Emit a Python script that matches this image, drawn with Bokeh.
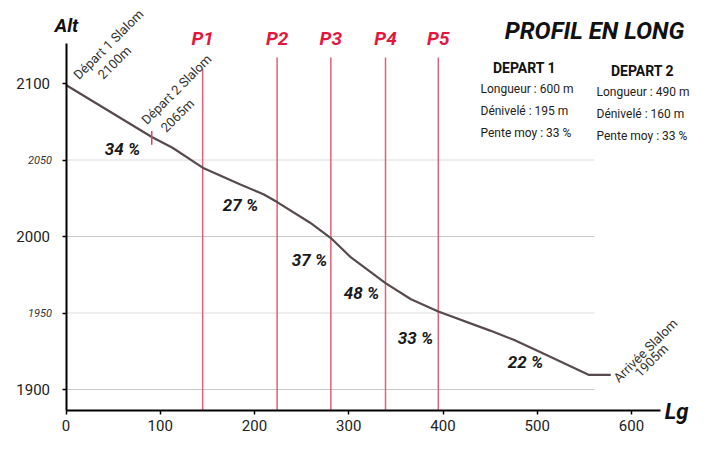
from bokeh.plotting import figure
from bokeh.models import Range1d, Label, FixedTicker
from bokeh.core.properties import value
from bokeh.embed import file_html
from bokeh.resources import INLINE

# ---------------- data ----------------
dist = [0, 91, 113, 145, 185, 210, 224, 259, 281, 302, 339, 366, 395, 450, 475, 503, 555, 578]
alt = [2099, 2065, 2058, 2045, 2034, 2027.5, 2022.5, 2009, 1999, 1986.5, 1969.5, 1959, 1951,
       1938.5, 1932.5, 1924.5, 1909.5, 1909.5]
posts = ["P1", "P2", "P3", "P4", "P5"]
post_dist = [145, 224, 281, 339, 395]
slopes = ["34 %", "27 %", "37 %", "48 %", "33 %", "22 %"]
x_ticks = [0, 100, 200, 300, 400, 500, 600]
y_main_ticks = [1900, 2000, 2100]
y_small_ticks = [1950, 2050]
grid_levels = [1900, 1950, 2000, 2050]
depart2 = (91, 2065)
title = "PROFIL EN LONG"
dep1_lines = ["DEPART 1", "Longueur : 600 m", "Dénivelé : 195 m", "Pente moy : 33 %"]
dep2_lines = ["DEPART 2", "Longueur : 490 m", "Dénivelé : 160 m", "Pente moy : 33 %"]
start_lbl = ["Départ 1 Slalom", "2100m"]
dep2_lbl = ["Départ 2 Slalom", "2065m"]
end_lbl = ["Arrivée Slalom", "1905m"]

# ---------------- layout helpers (pixel positions in the picture) ----------------
X0, KX = 65.5, 0.9425
Y0, KY = 83.0, 1.53
def sx(px):
    return (px - X0) / KX
def sy(py):
    return 2100 - (py - Y0) / KY

W, H = 692, 434
FONT = "Roboto"
f = value(FONT)

p = figure(width=W, height=H, min_border=0,
           x_range=Range1d(sx(0), sx(W)), y_range=Range1d(sy(H), sy(0)),
           output_backend="svg", toolbar_location=None, background_fill_color="white",
           border_fill_color="white")
p.outline_line_color = None
p.grid.visible = False

# axes, placed at data locations inside the full-size frame
p.xaxis.fixed_location = sy(410)
p.xaxis.bounds = (0, sx(660))
p.yaxis.fixed_location = 0
p.yaxis.bounds = (sy(410), sy(43))
p.xaxis.ticker = FixedTicker(ticks=x_ticks)
p.yaxis.ticker = FixedTicker(ticks=y_main_ticks + y_small_ticks)
p.yaxis.major_label_overrides = {t: "" for t in y_small_ticks}
for ax in (p.xaxis, p.yaxis):
    ax.axis_line_width = 2
    ax.axis_line_color = "black"
    ax.major_tick_in = 0
    ax.major_tick_out = 4
    ax.major_tick_line_width = 1.5
    ax.minor_tick_line_color = None
    ax.major_label_text_font = FONT
    ax.major_label_text_font_size = "15px"
    ax.major_label_text_color = "#222222"
p.xaxis.major_label_standoff = 5
p.yaxis.major_label_standoff = 12

# grid lines (partial width)
grid_col = ["#c8c8c8" if g % 100 == 0 else "#dcdcdc" for g in grid_levels]
p.segment(x0=[0] * len(grid_levels), y0=grid_levels, x1=[sx(594)] * len(grid_levels),
          y1=grid_levels, line_color=grid_col, line_width=1)

# post lines
tops = [sy(68)] + [sy(57)] * (len(post_dist) - 1)
p.segment(x0=post_dist, y0=[sy(410)] * len(post_dist), x1=post_dist, y1=tops,
          line_color="#e3607c", line_width=1.5)

# profile
p.line(dist, alt, line_color="#574a4c", line_width=2.2)
# départ 2 tick
p.segment(x0=[depart2[0]], y0=[depart2[1] + 4], x1=[depart2[0]], y1=[depart2[1] - 5],
          line_color="#e3405c", line_width=1.5)

# slope labels
slope_pos = [(122, 148), (240, 204), (309, 259), (361, 292), (415, 337), (525, 361)]
p.text(x=[sx(a) for a, b in slope_pos], y=[sy(b) for a, b in slope_pos], text=slopes,
       text_font=f, text_font_style="bold italic", text_font_size="17px",
       text_align="center", text_baseline="middle", text_color="#1a1a1a")

def lab(txt, px, py, size, style="normal", color="#222222", align="center", angle=0):
    p.add_layout(Label(x=sx(px), y=sy(py), text=txt, text_font=FONT, text_font_size=size,
                       text_font_style=style, text_color=color, text_align=align,
                       text_baseline="middle", angle=angle, angle_units="deg"))

# small y labels
for t in y_small_ticks:
    p.add_layout(Label(x=0, y=t, x_offset=-14, text=str(t), text_font=FONT,
                       text_font_size="11px", text_font_style="italic",
                       text_color="#333333", text_align="right", text_baseline="middle"))

# axis titles
lab("Alt", 66, 25, "19px", "bold italic", "#111111")
lab("Lg", 676, 411, "22px", "bold italic", "#111111")

# post names
for name, d in zip(posts, post_dist):
    p.add_layout(Label(x=d, y=sy(38), text=name, text_font=FONT, text_font_size="19px",
                       text_font_style="bold italic", text_color="#e3173e",
                       text_align="center", text_baseline="middle"))

# title
lab(title, 594, 30, "24px", "bold italic", "#111111")

# depart blocks
lab(dep1_lines[0], 524, 67, "14px", "bold", "#111111")
for i, t in enumerate(dep1_lines[1:]):
    lab(t, 480, 88 + 22 * i, "12px", "normal", "#222222", align="left")
lab(dep2_lines[0], 642, 70, "14px", "bold", "#111111")
for i, t in enumerate(dep2_lines[1:]):
    lab(t, 596, 91 + 22 * i, "12px", "normal", "#222222", align="left")

# rotated annotations
lab(start_lbl[0], 108, 44, "13px", angle=45, color="#333333")
lab(start_lbl[1], 114, 62, "13px", angle=45, color="#333333")
lab(dep2_lbl[0], 176, 89, "13px", angle=45, color="#333333")
lab(dep2_lbl[1], 177, 115, "13px", angle=45, color="#333333")
lab(end_lbl[0], 645, 350, "13px", angle=45, color="#333333")
lab(end_lbl[1], 651, 360, "13px", angle=45, color="#333333")

open("out.html", "w").write(file_html(p, INLINE))
